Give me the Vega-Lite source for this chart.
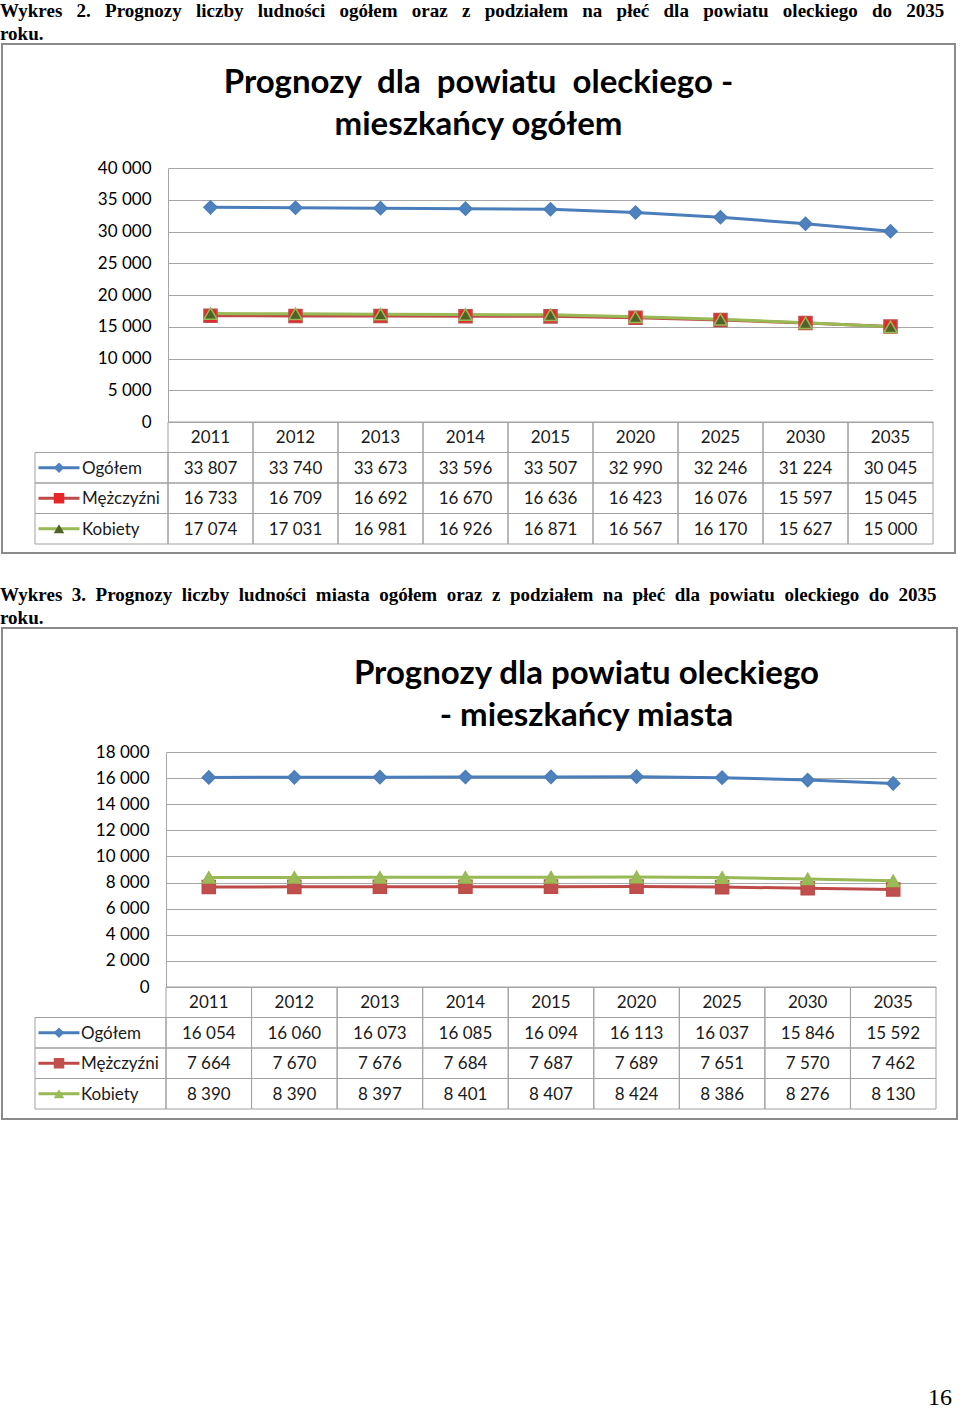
{
  "$schema": "https://vega.github.io/schema/vega-lite/v6.json",
  "padding": {"left": 0, "top": 2, "right": 0, "bottom": 0},
  "background": "white",
  "spacing": 32,
  "resolve": {"scale": {"fill": "independent", "stroke": "independent", "shape": "independent"}},
  "title": {"text": "16", "orient": "bottom", "anchor": "end", "frame": "bounds", "font": "Liberation Serif", "fontSize": 24, "fontWeight": "normal", "offset": 266, "dx": -6, "color": "#000000"},
  "datasets": {
    "d1": [
      {"r": "2011", "s": "Ogółem", "v": 33807}, {"r": "2012", "s": "Ogółem", "v": 33740}, {"r": "2013", "s": "Ogółem", "v": 33673},
      {"r": "2014", "s": "Ogółem", "v": 33596}, {"r": "2015", "s": "Ogółem", "v": 33507}, {"r": "2020", "s": "Ogółem", "v": 32990},
      {"r": "2025", "s": "Ogółem", "v": 32246}, {"r": "2030", "s": "Ogółem", "v": 31224}, {"r": "2035", "s": "Ogółem", "v": 30045},
      {"r": "2011", "s": "Mężczyźni", "v": 16733}, {"r": "2012", "s": "Mężczyźni", "v": 16709}, {"r": "2013", "s": "Mężczyźni", "v": 16692},
      {"r": "2014", "s": "Mężczyźni", "v": 16670}, {"r": "2015", "s": "Mężczyźni", "v": 16636}, {"r": "2020", "s": "Mężczyźni", "v": 16423},
      {"r": "2025", "s": "Mężczyźni", "v": 16076}, {"r": "2030", "s": "Mężczyźni", "v": 15597}, {"r": "2035", "s": "Mężczyźni", "v": 15045},
      {"r": "2011", "s": "Kobiety", "v": 17074}, {"r": "2012", "s": "Kobiety", "v": 17031}, {"r": "2013", "s": "Kobiety", "v": 16981},
      {"r": "2014", "s": "Kobiety", "v": 16926}, {"r": "2015", "s": "Kobiety", "v": 16871}, {"r": "2020", "s": "Kobiety", "v": 16567},
      {"r": "2025", "s": "Kobiety", "v": 16170}, {"r": "2030", "s": "Kobiety", "v": 15627}, {"r": "2035", "s": "Kobiety", "v": 15000}
    ],
    "d2": [
      {"r": "2011", "s": "Ogółem", "v": 16054}, {"r": "2012", "s": "Ogółem", "v": 16060}, {"r": "2013", "s": "Ogółem", "v": 16073},
      {"r": "2014", "s": "Ogółem", "v": 16085}, {"r": "2015", "s": "Ogółem", "v": 16094}, {"r": "2020", "s": "Ogółem", "v": 16113},
      {"r": "2025", "s": "Ogółem", "v": 16037}, {"r": "2030", "s": "Ogółem", "v": 15846}, {"r": "2035", "s": "Ogółem", "v": 15592},
      {"r": "2011", "s": "Mężczyźni", "v": 7664}, {"r": "2012", "s": "Mężczyźni", "v": 7670}, {"r": "2013", "s": "Mężczyźni", "v": 7676},
      {"r": "2014", "s": "Mężczyźni", "v": 7684}, {"r": "2015", "s": "Mężczyźni", "v": 7687}, {"r": "2020", "s": "Mężczyźni", "v": 7689},
      {"r": "2025", "s": "Mężczyźni", "v": 7651}, {"r": "2030", "s": "Mężczyźni", "v": 7570}, {"r": "2035", "s": "Mężczyźni", "v": 7462},
      {"r": "2011", "s": "Kobiety", "v": 8390}, {"r": "2012", "s": "Kobiety", "v": 8390}, {"r": "2013", "s": "Kobiety", "v": 8397},
      {"r": "2014", "s": "Kobiety", "v": 8401}, {"r": "2015", "s": "Kobiety", "v": 8407}, {"r": "2020", "s": "Kobiety", "v": 8424},
      {"r": "2025", "s": "Kobiety", "v": 8386}, {"r": "2030", "s": "Kobiety", "v": 8276}, {"r": "2035", "s": "Kobiety", "v": 8130}
    ]
  },
  "vconcat": [
    {
      "title": {"text": ["Wykres \u00a0\u00a02. \u00a0\u00a0Prognozy \u00a0\u00a0liczby \u00a0\u00a0ludności \u00a0\u00a0ogółem \u00a0\u00a0oraz \u00a0\u00a0z \u00a0\u00a0podziałem \u00a0\u00a0na \u00a0\u00a0płeć \u00a0\u00a0dla \u00a0\u00a0powiatu \u00a0\u00a0oleckiego \u00a0\u00a0do \u00a0\u00a02035", "roku."], "anchor": "start", "frame": "group", "font": "Liberation Serif", "fontSize": 19, "fontWeight": "bold", "lineHeight": 23, "offset": -1, "dx": -2, "color": "#000000"},
      "vconcat": [
        {
          "width": 953,
          "height": 509,
          "data": {"name": "d1"},
          "title": {"text": ["Prognozy\u00a0 dla\u00a0 powiatu\u00a0 oleckiego -", "mieszkańcy ogółem"], "anchor": "middle", "frame": "group", "offset": -98, "font": "Lato", "fontSize": 33, "fontWeight": "bold", "lineHeight": 42, "color": "#000000"},
          "resolve": {"scale": {"x": "independent", "y": "independent"}},
          "layer": [
            {
              "encoding": {
                "x": {"field": "r", "type": "nominal", "scale": {"type": "band", "domain": ["2011", "2012", "2013", "2014", "2015", "2020", "2025", "2030", "2035"], "range": [166, 931], "paddingInner": 0, "paddingOuter": 0}, "axis": null},
                "y": {"field": "v", "type": "quantitative", "scale": {"domain": [0, 40000], "range": [378, 124], "nice": false, "zero": true},
                  "axis": {"orient": "left", "offset": -166, "values": [0, 5000, 10000, 15000, 20000, 25000, 30000, 35000, 40000], "format": ",d", "grid": true, "gridColor": "#A6A6A6", "gridWidth": 1, "domain": true, "domainColor": "#A6A6A6", "domainWidth": 1, "ticks": false, "tickSize": 0, "labelPadding": 17, "labelFont": "Lato", "labelFontSize": 17, "labelColor": "#000000", "title": null}},
                "stroke": {"field": "s", "type": "nominal", "scale": {"domain": ["Ogółem", "Mężczyźni", "Kobiety"], "range": ["#4A7EBB", "#BE4B48", "#98B954"]}}
              },
              "layer": [
                {"mark": {"type": "line", "strokeWidth": 3}},
                {"mark": {"type": "point", "filled": true, "opacity": 1, "size": 170, "strokeWidth": 1.5},
                  "encoding": {
                    "fill": {"field": "s", "type": "nominal", "scale": {"domain": ["Ogółem", "Mężczyźni", "Kobiety"], "range": ["#4F81BD", "#E8262A", "#4F6228"]}},
                    "shape": {"field": "s", "type": "nominal", "scale": {"domain": ["Ogółem", "Mężczyźni", "Kobiety"], "range": ["diamond", "square", "triangle-up"]}}
                  }}
              ]
            },
            {
              "encoding": {
                "x": {"field": "r", "type": "nominal", "scale": {"type": "band", "domain": ["2011", "2012", "2013", "2014", "2015", "2020", "2025", "2030", "2035"], "range": [166, 931], "paddingInner": 0, "paddingOuter": 0}, "axis": null},
                "y": {"field": "s", "type": "nominal", "scale": {"type": "band", "domain": ["hdr", "Ogółem", "Mężczyźni", "Kobiety"], "range": [378, 500], "paddingInner": 0, "paddingOuter": 0}, "axis": null}
              },
              "layer": [
                {"mark": {"type": "rect", "fill": "transparent", "stroke": "#A0A0A0", "strokeWidth": 1}},
                {"mark": {"type": "text", "font": "Lato", "fontSize": 17, "color": "#1A1A1A", "baseline": "middle", "align": "center", "dy": 1},
                  "encoding": {"text": {"field": "v", "type": "quantitative", "format": ",d"}}},
                {"transform": [{"filter": "datum.s === 'Ogółem'"}],
                  "mark": {"type": "rect", "fill": "transparent", "stroke": "#A0A0A0", "strokeWidth": 1},
                  "encoding": {"y": {"datum": "hdr", "type": "nominal"}}},
                {"transform": [{"filter": "datum.s === 'Ogółem'"}],
                  "mark": {"type": "text", "font": "Lato", "fontSize": 17, "color": "#1A1A1A", "baseline": "middle", "align": "center", "dy": 1},
                  "encoding": {"y": {"datum": "hdr", "type": "nominal"}, "text": {"field": "r", "type": "nominal"}}}
              ]
            },
            {
              "transform": [{"filter": "datum.r === '2011'"}],
              "encoding": {
                "x": {"datum": "L", "type": "nominal", "scale": {"type": "band", "domain": ["L"], "range": [33, 166], "paddingInner": 0, "paddingOuter": 0}, "axis": null},
                "y": {"field": "s", "type": "nominal", "scale": {"type": "band", "domain": ["hdr", "Ogółem", "Mężczyźni", "Kobiety"], "range": [378, 500], "paddingInner": 0, "paddingOuter": 0}, "axis": null}
              },
              "layer": [
                {"mark": {"type": "rect", "fill": "transparent", "stroke": "#A0A0A0", "strokeWidth": 1}},
                {"mark": {"type": "point", "shape": "M-1,0L1,0", "size": 1681, "filled": false, "opacity": 1, "strokeWidth": 3, "xOffset": -42.5},
                  "encoding": {"stroke": {"field": "s", "type": "nominal", "scale": {"domain": ["Ogółem", "Mężczyźni", "Kobiety"], "range": ["#4A7EBB", "#BE4B48", "#98B954"]}}}},
                {"mark": {"type": "point", "filled": true, "opacity": 1, "size": 110, "strokeWidth": 0, "xOffset": -42.5},
                  "encoding": {
                    "fill": {"field": "s", "type": "nominal", "scale": {"domain": ["Ogółem", "Mężczyźni", "Kobiety"], "range": ["#4F81BD", "#E8262A", "#4F6228"]}},
                    "shape": {"field": "s", "type": "nominal", "scale": {"domain": ["Ogółem", "Mężczyźni", "Kobiety"], "range": ["diamond", "square", "triangle-up"]}}
                  }},
                {"mark": {"type": "text", "font": "Lato", "fontSize": 17, "color": "#1A1A1A", "baseline": "middle", "align": "left", "dx": -19.5, "dy": 1},
                  "encoding": {"text": {"field": "s", "type": "nominal"}}}
              ]
            }
          ]
        }
      ]
    },
    {
      "title": {"text": ["Wykres \u00a03. \u00a0Prognozy \u00a0liczby \u00a0ludności \u00a0miasta \u00a0ogółem \u00a0oraz \u00a0z \u00a0podziałem \u00a0na \u00a0płeć \u00a0dla \u00a0powiatu \u00a0oleckiego \u00a0do \u00a02035", "roku."], "anchor": "start", "frame": "group", "font": "Liberation Serif", "fontSize": 19, "fontWeight": "bold", "lineHeight": 23, "offset": -1, "dx": -2, "color": "#000000"},
      "vconcat": [
        {
          "width": 955,
          "height": 491,
          "data": {"name": "d2"},
          "title": {"text": ["Prognozy dla powiatu oleckiego", "- mieszkańcy miasta"], "anchor": "middle", "frame": "group", "offset": -105, "dx": 107, "font": "Lato", "fontSize": 33, "fontWeight": "bold", "lineHeight": 42, "color": "#000000"},
          "resolve": {"scale": {"x": "independent", "y": "independent"}},
          "layer": [
            {
              "encoding": {
                "x": {"field": "r", "type": "nominal", "scale": {"type": "band", "domain": ["2011", "2012", "2013", "2014", "2015", "2020", "2025", "2030", "2035"], "range": [164, 934], "paddingInner": 0, "paddingOuter": 0}, "axis": null},
                "y": {"field": "v", "type": "quantitative", "scale": {"domain": [0, 18000], "range": [359, 124], "nice": false, "zero": true},
                  "axis": {"orient": "left", "offset": -164, "values": [0, 2000, 4000, 6000, 8000, 10000, 12000, 14000, 16000, 18000], "format": ",d", "grid": true, "gridColor": "#A6A6A6", "gridWidth": 1, "domain": true, "domainColor": "#A6A6A6", "domainWidth": 1, "ticks": false, "tickSize": 0, "labelPadding": 17, "labelFont": "Lato", "labelFontSize": 17, "labelColor": "#000000", "title": null}},
                "stroke": {"field": "s", "type": "nominal", "scale": {"domain": ["Ogółem", "Mężczyźni", "Kobiety"], "range": ["#4A7EBB", "#BE4B48", "#98B954"]}}
              },
              "layer": [
                {"mark": {"type": "line", "strokeWidth": 3}},
                {"mark": {"type": "point", "filled": true, "opacity": 1, "size": 170, "strokeWidth": 1.5},
                  "encoding": {
                    "fill": {"field": "s", "type": "nominal", "scale": {"domain": ["Ogółem", "Mężczyźni", "Kobiety"], "range": ["#4F81BD", "#C0504D", "#9BBB59"]}},
                    "shape": {"field": "s", "type": "nominal", "scale": {"domain": ["Ogółem", "Mężczyźni", "Kobiety"], "range": ["diamond", "square", "triangle-up"]}}
                  }}
              ]
            },
            {
              "encoding": {
                "x": {"field": "r", "type": "nominal", "scale": {"type": "band", "domain": ["2011", "2012", "2013", "2014", "2015", "2020", "2025", "2030", "2035"], "range": [164, 934], "paddingInner": 0, "paddingOuter": 0}, "axis": null},
                "y": {"field": "s", "type": "nominal", "scale": {"type": "band", "domain": ["hdr", "Ogółem", "Mężczyźni", "Kobiety"], "range": [359, 481], "paddingInner": 0, "paddingOuter": 0}, "axis": null}
              },
              "layer": [
                {"mark": {"type": "rect", "fill": "transparent", "stroke": "#A0A0A0", "strokeWidth": 1}},
                {"mark": {"type": "text", "font": "Lato", "fontSize": 17, "color": "#1A1A1A", "baseline": "middle", "align": "center", "dy": 1},
                  "encoding": {"text": {"field": "v", "type": "quantitative", "format": ",d"}}},
                {"transform": [{"filter": "datum.s === 'Ogółem'"}],
                  "mark": {"type": "rect", "fill": "transparent", "stroke": "#A0A0A0", "strokeWidth": 1},
                  "encoding": {"y": {"datum": "hdr", "type": "nominal"}}},
                {"transform": [{"filter": "datum.s === 'Ogółem'"}],
                  "mark": {"type": "text", "font": "Lato", "fontSize": 17, "color": "#1A1A1A", "baseline": "middle", "align": "center", "dy": 1},
                  "encoding": {"y": {"datum": "hdr", "type": "nominal"}, "text": {"field": "r", "type": "nominal"}}}
              ]
            },
            {
              "transform": [{"filter": "datum.r === '2011'"}],
              "encoding": {
                "x": {"datum": "L", "type": "nominal", "scale": {"type": "band", "domain": ["L"], "range": [33, 164], "paddingInner": 0, "paddingOuter": 0}, "axis": null},
                "y": {"field": "s", "type": "nominal", "scale": {"type": "band", "domain": ["hdr", "Ogółem", "Mężczyźni", "Kobiety"], "range": [359, 481], "paddingInner": 0, "paddingOuter": 0}, "axis": null}
              },
              "layer": [
                {"mark": {"type": "rect", "fill": "transparent", "stroke": "#A0A0A0", "strokeWidth": 1}},
                {"mark": {"type": "point", "shape": "M-1,0L1,0", "size": 1681, "filled": false, "opacity": 1, "strokeWidth": 3, "xOffset": -41.5},
                  "encoding": {"stroke": {"field": "s", "type": "nominal", "scale": {"domain": ["Ogółem", "Mężczyźni", "Kobiety"], "range": ["#4A7EBB", "#BE4B48", "#98B954"]}}}},
                {"mark": {"type": "point", "filled": true, "opacity": 1, "size": 110, "strokeWidth": 0, "xOffset": -41.5},
                  "encoding": {
                    "fill": {"field": "s", "type": "nominal", "scale": {"domain": ["Ogółem", "Mężczyźni", "Kobiety"], "range": ["#4F81BD", "#C0504D", "#9BBB59"]}},
                    "shape": {"field": "s", "type": "nominal", "scale": {"domain": ["Ogółem", "Mężczyźni", "Kobiety"], "range": ["diamond", "square", "triangle-up"]}}
                  }},
                {"mark": {"type": "text", "font": "Lato", "fontSize": 17, "color": "#1A1A1A", "baseline": "middle", "align": "left", "dx": -19.5, "dy": 1},
                  "encoding": {"text": {"field": "s", "type": "nominal"}}}
              ]
            }
          ]
        }
      ]
    }
  ],
  "config": {
    "view": {"stroke": "#8A8A8A", "strokeWidth": 2},
    "legend": {"disable": true},
    "font": "Lato",
    "locale": {"number": {"decimal": ",", "thousands": "\u00a0", "grouping": [3], "currency": ["", " zł"]}}
  }
}
